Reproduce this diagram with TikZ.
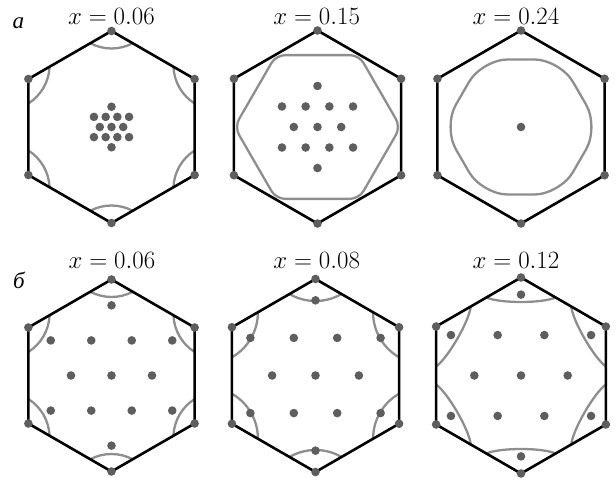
\documentclass[tikz,border=0pt]{standalone}
\usepackage{fontspec}
\newfontfamily\cyrfont{Liberation Serif}
\usetikzlibrary{calc}
\definecolor{dotgray}{HTML}{5E5E5E}
\definecolor{fermigray}{HTML}{8E8E8E}
\newcommand\mkhex[3]{% name, center, R
  \coordinate (#1c) at (#2);
  \foreach \k in {1,...,6}{
    \coordinate (#1v\k) at ($(#1c)+({30+60*\k}:#3)$);
  }
}
\newcommand\mkarcs[2]{% name, local path
  \foreach \k in {1,...,6}{
    \begin{scope}[shift={(#1v\k)}, rotate={210+60*\k}]
      \draw[fermi] #2;
    \end{scope}
  }
}
\newcommand\mkframe[1]{%
  \draw[hexline] (#1v1) -- (#1v2) -- (#1v3) -- (#1v4) -- (#1v5) -- (#1v6) -- cycle;
  \foreach \k in {1,...,6}{\node[dot] (#1n\k) at (#1v\k) {};}
}
\newcommand\mkdots[2]{% name, spacing
  \foreach \u/\v [count=\i] in {0/0,1/0,-1/0,0.5/1,-0.5/1,0.5/-1,-0.5/-1,1.5/1,-1.5/1,1.5/-1,-1.5/-1,0/2,0/-2}{
    \node[dot] (#1d\i) at ($(#1c)+(\u*#2,\v*0.866*#2)$) {};
  }
}
\begin{document}
\begin{tikzpicture}[x=1pt,y=1pt,
  hexline/.style={line width=2.6pt, line join=round},
  fermi/.style={line width=2.3pt, draw=fermigray},
  dot/.style={circle, fill=dotgray, inner sep=0pt, minimum size=8.6pt},
  lab/.style={font=\fontsize{23}{27}\selectfont, anchor=base, inner sep=0pt}]
\useasboundingbox (0,0) rectangle (616,477);

% panel centers
\mkhex{a1}{111.5,350}{96}
\mkhex{a2}{317.5,350}{96.5}
\mkhex{a3}{521,350}{96.5}
\mkhex{b1}{111.5,101.5}{96}
\mkhex{b2}{315.5,101.5}{96.5}
\mkhex{b3}{521,101.5}{98}

% Fermi contours
\mkarcs{a1}{(12.25,21.2) arc[start angle=27.8, end angle=-27.8, radius=45.4]}
\mkarcs{b1}{(12.25,21.2) arc[start angle=27.8, end angle=-27.8, radius=45.4]}
\mkarcs{b2}{(15,25.98) arc[start angle=30.2, end angle=-30.2, radius=51.7]}
\mkarcs{b3}{(20,34.64) .. controls (26,21) and (26,-21) .. (20,-34.64)}

\foreach \k in {1,...,6}{
  \coordinate (a2g\k) at ($(a2c)+({60*\k}:83)$);
  \coordinate (a3g\k) at ($(a3c)+({60*\k}:78)$);
}
\draw[fermi, rounded corners=9pt] (a2g1) -- (a2g2) -- (a2g3) -- (a2g4) -- (a2g5) -- (a2g6) -- cycle;
\draw[fermi, rounded corners=26pt] (a3g1) -- (a3g2) -- (a3g3) -- (a3g4) -- (a3g5) -- (a3g6) -- cycle;

% Brillouin zones
\mkframe{a1}
\mkframe{a2}
\mkframe{a3}
\mkframe{b1}
\mkframe{b2}
\mkframe{b3}

% lattice dots
\mkdots{a1}{11.7}
\mkdots{a2}{23.7}
\node[dot] (a3d1) at (a3c) {};
\mkdots{b1}{40.5}
\mkdots{b2}{43.4}
\mkdots{b3}{46.7}

% labels
\node[lab] (ta1) at (111.5,452) {$x = 0.06$};
\node[lab] (ta2) at (316.7,452) {$x = 0.15$};
\node[lab] (ta3) at (516,452) {$x = 0.24$};
\node[lab] (tb1) at (112,208) {$x = 0.06$};
\node[lab] (tb2) at (316.7,208) {$x = 0.08$};
\node[lab] (tb3) at (516,208) {$x = 0.12$};
\node[lab] (la) at (18.3,448.5) {\cyrfont\itshape а};
\node[lab] (lb) at (18.8,188.7) {\cyrfont\itshape б};
\end{tikzpicture}
\end{document}
